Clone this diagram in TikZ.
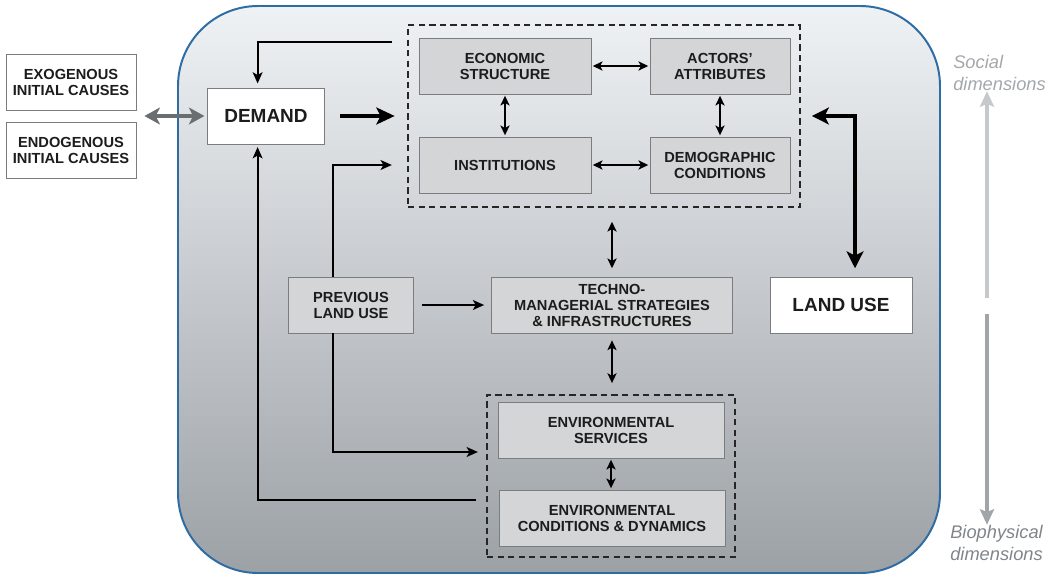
\documentclass[tikz,border=0pt]{standalone}
\usepackage{fontspec}
\setmainfont{Liberation Sans}
\usetikzlibrary{arrows.meta}

\definecolor{panelblue}{HTML}{2E6CA4}
\definecolor{paneltop}{HTML}{EFF2F5}
\definecolor{panelbottom}{HTML}{9CA1A6}
\definecolor{boxgray}{HTML}{D4D5D6}
\definecolor{boxline}{HTML}{7A7C7E}
\definecolor{textgray}{HTML}{1C1C1C}
\definecolor{causegray}{HTML}{6B6E70}
\definecolor{socialgray}{HTML}{C6C9CC}
\definecolor{biogray}{HTML}{A2A5A8}
\definecolor{socialtext}{HTML}{A3A7AB}
\definecolor{biotext}{HTML}{818589}

\tikzset{
	box/.style={draw=boxline, fill=boxgray, inner sep=0pt, align=center, minimum height=1.4cm, text=textgray, font=\bfseries\fontsize{10.4}{11.4}\selectfont},
	whitebox/.style={box, fill=white},
	bigbox/.style={whitebox, font=\bfseries\fontsize{13.5}{15}\selectfont},
	groupbox/.style={draw=black!85, line width=0.9pt, dash pattern=on 4.5pt off 3pt, inner sep=0pt},
	panel/.style={draw=panelblue, line width=1.4pt, top color=paneltop, bottom color=panelbottom, rounded corners=2cm},
	link/.style={line width=1.4pt, arrows={-Stealth[length=8pt, width=7pt, inset=2pt]}},
	twoway/.style={line width=1.4pt, arrows={Stealth[length=7pt, width=6.5pt, inset=1.8pt]-Stealth[length=7pt, width=6.5pt, inset=1.8pt]}, shorten <=1pt, shorten >=1pt},
	thicklink/.style={line width=3.5pt, arrows={-Stealth[length=13pt, width=12pt, inset=3pt]}},
	thicktwoway/.style={line width=3pt, arrows={Stealth[length=12pt, width=12pt, inset=3pt]-Stealth[length=12pt, width=12pt, inset=3pt]}},
	causelink/.style={causegray, line width=3pt, arrows={Stealth[length=11pt, width=12pt, inset=3pt]-Stealth[length=11pt, width=12pt, inset=3pt]}},
	dimlabel/.style={anchor=west, inner sep=0pt, align=left, font=\itshape\fontsize{13}{16}\selectfont},
	dimarrow/.style={line width=3.5pt, arrows={-Stealth[length=11pt, width=10pt, inset=2pt]}}
}

\begin{document}
\begin{tikzpicture}[x=0.025cm, y=-0.025cm]
	\useasboundingbox (0,0) rectangle (1057,579);
	\draw [panel] (178,6) rectangle (940,573);

	\node [whitebox, minimum width=3.25cm] (exo) at (71,82) {EXOGENOUS\\INITIAL CAUSES};
	\node [whitebox, minimum width=3.25cm] (endo) at (71,150) {ENDOGENOUS\\INITIAL CAUSES};
	\node [bigbox, minimum width=2.925cm] (demand) at (266,116) {DEMAND};
	\node [groupbox, minimum width=9.8cm, minimum height=4.55cm] (social) at (604,116) {};
	\node [box, minimum width=4.3cm] (econ) at (505,66) {ECONOMIC\\STRUCTURE};
	\node [box, minimum width=3.5cm] (actors) at (720,66) {ACTORS’\\ATTRIBUTES};
	\node [box, minimum width=4.3cm] (inst) at (505,165) {INSTITUTIONS};
	\node [box, minimum width=3.5cm] (demo) at (720,165) {DEMOGRAPHIC\\CONDITIONS};
	\node [box, minimum width=3.125cm] (prev) at (351,305) {PREVIOUS\\LAND USE};
	\node [box, minimum width=6.025cm] (techno) at (612,305) {TECHNO-\\MANAGERIAL STRATEGIES\\\& INFRASTRUCTURES};
	\node [bigbox, minimum width=3.55cm] (landuse) at (841,305) {LAND USE};
	\node [groupbox, minimum width=6.2cm, minimum height=4.05cm] (env) at (611,476) {};
	\node [box, minimum width=5.65cm] (envserv) at (611,430) {ENVIRONMENTAL\\SERVICES};
	\node [box, minimum width=5.65cm] (envcond) at (612,518) {ENVIRONMENTAL\\CONDITIONS \& DYNAMICS};

	\coordinate (causes) at (136,116);
	\draw [causelink, shorten <=6pt, shorten >=2pt] (causes) -- (demand.west);
	\draw [thicklink, shorten <=11pt, shorten >=9pt] (demand.east) -- (social.west);
	\draw [thicktwoway, shorten <=6pt, shorten >=8pt] ([xshift=0.35cm]landuse.north) |- (social.east);

	\draw [link, shorten >=3pt] ([xshift=-0.375cm, yshift=1.85cm]social.west) -| ([xshift=-0.21cm]demand.north);
	\draw [link, shorten >=2pt] ([xshift=-0.25cm, yshift=-0.6cm]env.west) -| ([xshift=-0.21cm]demand.south);
	\draw [link, shorten >=11pt] ([xshift=-0.46cm]prev.north) |- (social.west |- inst);
	\draw [link, shorten >=6pt] ([xshift=-0.46cm]prev.south) |- ([yshift=0.6cm]env.west);
	\draw [link, shorten <=6pt, shorten >=5pt] (prev) -- (techno);

	\draw [twoway] (econ) -- (actors);
	\draw [twoway] (inst) -- (demo);
	\draw [twoway] (econ) -- (inst);
	\draw [twoway] (actors) -- (demo);
	\draw [twoway, shorten <=10pt, shorten >=6pt] (social.south -| techno) -- (techno);
	\draw [twoway, shorten <=5pt, shorten >=8pt] (techno) -- (env.north -| techno);
	\draw [twoway] (envserv.south) -- (envserv.south |- envcond.north);

	\node [dimlabel, text=socialtext] (soctext) at (953,73) {Social\\dimensions};
	\node [dimlabel, text=biotext] (biotext) at (950,543) {Biophysical\\dimensions};
	\coordinate (dimsplit) at (987,306);
	\draw [dimarrow, socialgray] ([yshift=0.2cm]dimsplit) -- (dimsplit |- soctext.south);
	\draw [dimarrow, biogray] ([yshift=-0.2cm]dimsplit) -- (dimsplit |- biotext.north);
\end{tikzpicture}
\end{document}
